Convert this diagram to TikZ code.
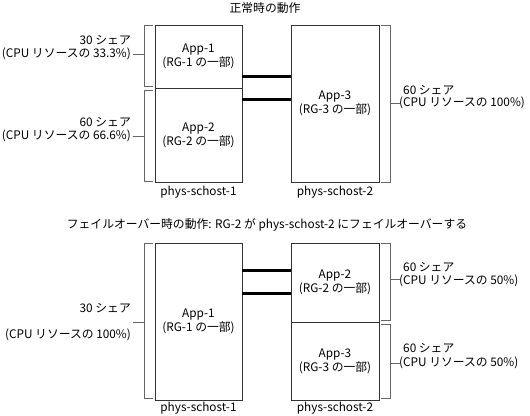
\documentclass[tikz,border=0pt]{standalone}
\usepackage{fontspec}
\setmainfont{Noto Sans CJK JP}
\begin{document}
\begin{tikzpicture}[x=1pt,y=-1pt,
  every node/.style={font=\fontsize{11.8}{14}\selectfont, inner sep=0pt},
  box/.style={draw=black!80, line width=0.8pt, align=center, fill=white},
  brk/.style={draw=black!60, line width=0.7pt},
  link/.style={line width=2.6pt, black},
  lbl/.style={align=center}]
\useasboundingbox (0,0) rectangle (530,415);
% ---------- top ----------
\node (t1) at (265,8) {正常時の動作};
\node[box, minimum width=87pt, minimum height=63pt] (a1) at (198.5,56.5) {App-1\\(RG-1 の一部)};
\node[box, minimum width=87pt, minimum height=94pt] (a2) at (198.5,135) {App-2\\(RG-2 の一部)};
\node[box, minimum width=88pt, minimum height=157pt] (a3) at (335,103.5) {App-3\\(RG-3 の一部)};
\node (h1) at (198.5,192) {phys-schost-1};
\node (h2) at (335,192) {phys-schost-2};
\coordinate (c1) at ([yshift=12pt]a1.south east);
\coordinate (c2) at ([yshift=-11pt]a1.south east);
\draw[link] (c1) -- (c1 -| a3.west);
\draw[link] (c2) -- (c2 -| a3.west);
% brackets
\draw[brk] (153,25) -- (144,25) -- (144,86) -- (153,86);
\draw[brk] (144,54) -- (133,54);
\draw[brk] (153,90) -- (144,90) -- (144,181) -- (153,181);
\draw[brk] (144,136) -- (133,136);
\draw[brk] (381,25) -- (390,25) -- (390,182) -- (381,182);
\draw[brk] (390,103) -- (400,103);
\node[anchor=east] (l1a) at (131,40) {30 シェア};
\node[anchor=east] (l1b) at (131,54) {(CPU リソースの 33.3\%)};
\node[anchor=east] (l2a) at (131,122) {60 シェア};
\node[anchor=east] (l2b) at (131,136) {(CPU リソースの 66.6\%)};
\node[anchor=west] (r1a) at (403,90) {60 シェア};
\node[anchor=west] (r1b) at (399,103) {(CPU リソースの 100\%)};
% ---------- bottom ----------
\node (t2) at (267,225) {フェイルオーバー時の動作: RG-2 が phys-schost-2 にフェイルオーバーする};
\node[box, minimum width=87pt, minimum height=157pt] (b1) at (198.5,321.5) {App-1\\(RG-1 の一部)};
\node[box, minimum width=88pt, minimum height=79pt] (b2) at (335,282.5) {App-2\\(RG-2 の一部)};
\node[box, minimum width=88pt, minimum height=78pt] (b3) at (335,361) {App-3\\(RG-3 の一部)};
\node (g1) at (198.5,408) {phys-schost-1};
\node (g2) at (335,408) {phys-schost-2};
\coordinate (d1) at ([yshift=-28pt]b1.north east);
\coordinate (d2) at ([yshift=-51pt]b1.north east);
\draw[link] (d1) -- (d1 -| b2.west);
\draw[link] (d2) -- (d2 -| b2.west);
\draw[brk] (153,243) -- (144,243) -- (144,398) -- (153,398);
\draw[brk] (144,322) -- (133,322);
\draw[brk] (381,243) -- (390,243) -- (390,320) -- (381,320);
\draw[brk] (390,279) -- (400,279);
\draw[brk] (381,324) -- (390,324) -- (390,398) -- (381,398);
\draw[brk] (390,363) -- (400,363);
\node[anchor=east] (m1a) at (131,308) {30 シェア};
\node[anchor=east] (m1b) at (131,335) {(CPU リソースの 100\%)};
\node[anchor=west] (s1a) at (403,267) {60 シェア};
\node[anchor=west] (s1b) at (399,281) {(CPU リソースの 50\%)};
\node[anchor=west] (s2a) at (403,348) {60 シェア};
\node[anchor=west] (s2b) at (399,363) {(CPU リソースの 50\%)};
\end{tikzpicture}
\end{document}
